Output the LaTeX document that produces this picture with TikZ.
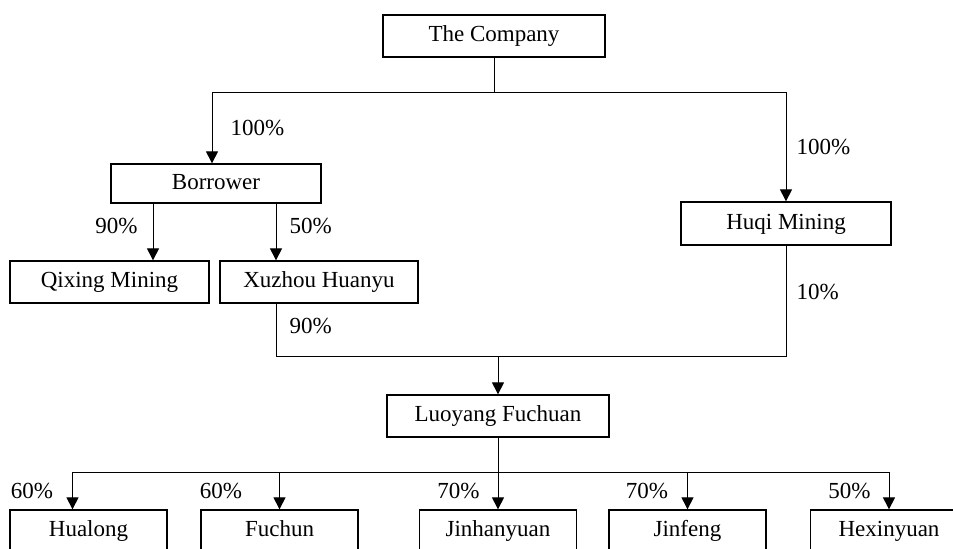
\documentclass[tikz,border=0pt]{standalone}
\usepackage{fontspec}
\setmainfont{Liberation Serif}
\usepackage{tikz}
\usetikzlibrary{arrows.meta}

\begin{document}
\begin{tikzpicture}[
   x=0.5pt,y=-0.5pt,
   font=\fontsize{11.5}{14}\selectfont,
   firm/.style={draw,line width=0.65pt,minimum height=21pt,inner sep=0pt,text height=8pt,text depth=2.5pt},
   own/.style={-{Triangle[width=6pt,length=6pt]},line width=0.5pt},
   link/.style={line width=0.5pt},
   pct/.style={inner sep=0pt}]
\useasboundingbox (0,0) rectangle (953,548);
\node[firm,minimum width=111pt] (comp) at (494,36) {The Company};
\node[firm,minimum width=105pt,minimum height=19.5pt] (borrower) at (216,183.5) {Borrower};
\node[firm,minimum width=105pt,minimum height=21.5pt] (huqi) at (786,223.5) {Huqi Mining};
\node[firm,minimum width=99.5pt] (qixing) at (109.5,282) {Qixing Mining};
\node[firm,minimum width=99pt] (xuzhou) at (319,282) {Xuzhou Huanyu};
\node[firm,minimum width=111pt] (luoyang) at (498,416) {Luoyang Fuchuan};
\node[firm,minimum width=78.5pt] (hualong) at (88.5,531) {Hualong};
\node[firm,minimum width=78.5pt] (fuchun) at (279.5,531) {Fuchun};
\node[firm,minimum width=78.5pt] (jinhanyuan) at (498,531) {Jinhanyuan};
\node[firm,minimum width=78.5pt] (jinfeng) at (687.5,531) {Jinfeng};
\node[firm,minimum width=78.5pt] (hexinyuan) at (889,531) {Hexinyuan};
\coordinate (top) at (494,92);
\coordinate (join) at (498,356);
\coordinate (fan) at (498,472);
% the company
\draw[link] (comp.south) -- (top);
\draw[own] (top) -| ([xshift=-2pt]borrower.north) node[pct,pos=0.75,anchor=west,xshift=9pt] {100\%};
\draw[own] (top) -| (huqi.north) node[pct,pos=0.75,anchor=west,xshift=5pt] {100\%};
% borrower
\draw[own] ([xshift=-31.5pt]borrower.south) -- ([xshift=-31.5pt]borrower.south |- qixing.north)
   node[pct,pos=0.4,anchor=east,xshift=-7.5pt] {90\%};
\draw[own] ([xshift=30pt]borrower.south) -- ([xshift=30pt]borrower.south |- xuzhou.north)
   node[pct,pos=0.4,anchor=west,xshift=6.5pt] {50\%};
% luoyang fuchuan
\draw[link] ([xshift=-21.5pt]xuzhou.south) |- (join) node[pct,pos=0.21,anchor=west,xshift=6.5pt] {90\%};
\draw[link] (huqi.south) |- (join) node[pct,pos=0.21,anchor=west,xshift=5pt] {10\%};
\draw[own] (join) -- (luoyang.north);
\draw[own] (luoyang.south) -- (jinhanyuan.north) node[pct,pos=0.74,anchor=east,xshift=-9pt] {70\%};
\foreach \n/\s/\p/\g in {hualong/-8/60/9.5,fuchun/0/60/18.5,jinfeng/0/70/9.5,hexinyuan/0/50/9}
  \draw[own] (fan) -| ([xshift=\s pt]\n.north) node[pct,pos=0.75,anchor=east,xshift=-\g pt] {\p\%};
\end{tikzpicture}
\end{document}
